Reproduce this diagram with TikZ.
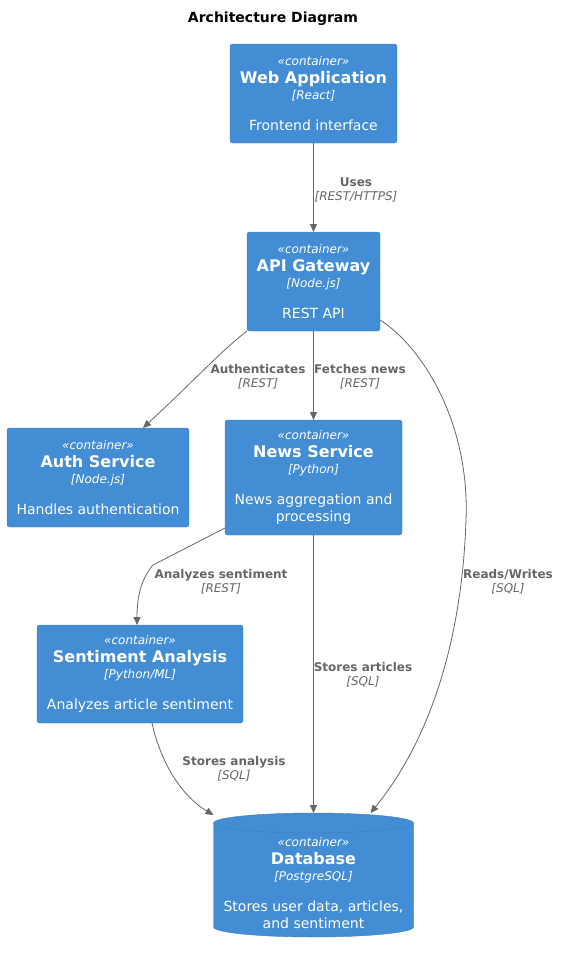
\documentclass[tikz,border=0pt]{standalone}
\usepackage{fontspec}
\setmainfont{DejaVu Sans}[ItalicFont={DejaVu Sans Oblique},BoldFont={DejaVu Sans Bold},BoldItalicFont={DejaVu Sans Bold Oblique}]
\usetikzlibrary{positioning,arrows.meta,backgrounds}

\definecolor{boxblue}{HTML}{438DD5}
\definecolor{boxline}{HTML}{3C7FC0}
\definecolor{relgray}{HTML}{666666}

\newcommand{\stype}{{\fontsize{12}{14}\selectfont\itshape «container»}}
\newcommand{\cname}[1]{{\fontsize{16}{14}\selectfont\bfseries #1}}
\newcommand{\ctech}[1]{{\fontsize{12}{14}\selectfont\itshape [#1]}}
\newcommand{\cdesc}[1]{{\fontsize{14}{14}\selectfont #1}}

\begin{document}
\begin{tikzpicture}[x=1pt, y=-1pt,
	container/.style={fill=boxblue, draw=boxline, rounded corners=2.5pt, text=white, align=center,
		inner sep=0pt, outer sep=0pt, font=\fontsize{12}{14}\selectfont},
	rel/.style={draw=relgray, line width=0.8pt, -{Triangle[length=8pt,width=7pt]}},
	lbl/.style={text=relgray, align=center, inner sep=0pt, font=\fontsize{12}{14}\selectfont}]
		\useasboundingbox (0,0) rectangle (560,953);
		\node[font=\fontsize{14}{16}\selectfont\bfseries] (title) at (273,19) {Architecture Diagram};
		
		\node[container, minimum width=167pt, minimum height=99pt] (web) at (313.5,93.5)
			{\stype\\[4pt] \cname{Web Application}\\[1.5pt] \ctech{React}\\[17pt] \cdesc{Frontend interface}};
		\node[container, minimum width=133pt, minimum height=99pt, below=89pt of web] (api)
			{\stype\\[4pt] \cname{API Gateway}\\[1.5pt] \ctech{Node.js}\\[17pt] \cdesc{REST API}};
		\node[container, minimum width=177pt, minimum height=115pt, below=89pt of api] (news)
			{\stype\\[4pt] \cname{News Service}\\[1.5pt] \ctech{Python}\\[17pt] \cdesc{News aggregation and}\\[3pt] \cdesc{processing}};
		\node[container, minimum width=182pt, minimum height=99pt, left=36pt of news] (auth)
			{\stype\\[4pt] \cname{Auth Service}\\[1.5pt] \ctech{Node.js}\\[17pt] \cdesc{Handles authentication}};
		\node[container, minimum width=206pt, minimum height=98pt] (sent) at (140,674)
			{\stype\\[4pt] \cname{Sentiment Analysis}\\[1.5pt] \ctech{Python/ML}\\[17pt] \cdesc{Analyzes article sentiment}};
		\node[container, fill=none, draw=none, minimum width=200pt, minimum height=124pt] (db) at (313.5,875)
			{\rule{0pt}{25pt}\stype\\[4pt] \cname{Database}\\[1.5pt] \ctech{PostgreSQL}\\[17pt] \cdesc{Stores user data, articles,}\\[3pt] \cdesc{and sentiment}};
		
		% cylinder behind the database text
		\begin{scope}[on background layer]
			\path[fill=boxblue, draw=boxline] ([yshift=-10pt]db.north west) -- ([yshift=10pt]db.south west)
				arc[start angle=180, end angle=360, x radius=100pt, y radius=10pt]
				-- ([yshift=-10pt]db.north east)
				arc[start angle=0, end angle=180, x radius=100pt, y radius=10pt] -- cycle;
			\draw[boxline] ([yshift=-10pt]db.north west) arc[start angle=180, end angle=360, x radius=100pt, y radius=10pt];
		\end{scope}
		
		\draw[rel] (web.south)--(api.north);
		\node[lbl] (usesl) at (356,190) {\textbf{Uses}\\\textit{[REST/HTTPS]}};
		
		\draw[rel] (api.south west) .. controls (220,352) and (200,375) .. ([xshift=45pt]auth.north);
		\node[lbl] (authl) at (258,377) {\textbf{Authenticates}\\\textit{[REST]}};
		
		\draw[rel] (api.south)--(news.north);
		\node[lbl] (fetchl) at (360,377) {\textbf{Fetches news}\\\textit{[REST]}};
		
		\draw[rel] ([yshift=11pt]api.south east) .. controls (420,345) and (470,420) .. (466,520)
			.. controls (462,640) and (430,740) .. ([xshift=57pt]db.north);
		\node[lbl] (rwl) at (508,582) {\textbf{Reads/Writes}\\\textit{[SQL]}};
		
		\draw[rel] ([yshift=7pt]news.south west) -- (153,565) .. controls (140,580) and (137,600) .. ([xshift=-3pt]sent.north);
		\node[lbl] (anl) at (221,582) {\textbf{Analyzes sentiment}\\\textit{[REST]}};
		
		\draw[rel] (news.south)--(db.north);
		\node[lbl] (artl) at (363,675) {\textbf{Stores articles}\\\textit{[SQL]}};
		
		\draw[rel] ([xshift=12pt]sent.south) .. controls (160,760) and (180,795) .. ([yshift=-2pt]db.north west);
		\node[lbl] (anal) at (234,769) {\textbf{Stores analysis}\\\textit{[SQL]}};
\end{tikzpicture}
\end{document}
